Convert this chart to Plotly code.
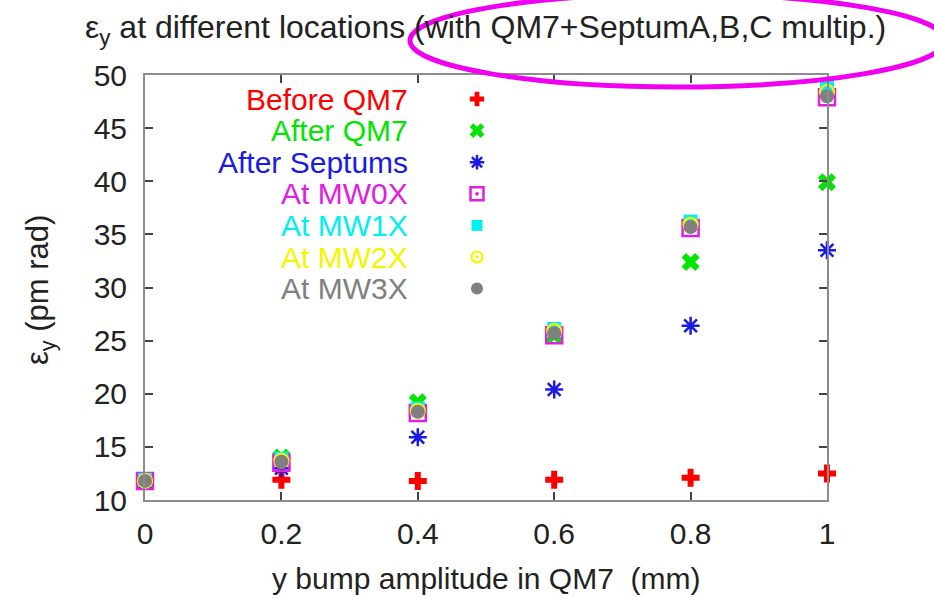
import plotly.graph_objects as go

# ---- data ----
bump_mm = [0.0, 0.2, 0.4, 0.6, 0.8, 1.0]
before_qm7 = [11.8, 11.9, 11.8, 11.9, 12.1, 12.5]
after_qm7 = [11.8, 14.0, 19.2, 25.5, 32.4, 39.9]
after_septums = [11.8, 13.0, 15.9, 20.4, 26.4, 33.5]
at_mw0x = [11.8, 13.5, 18.2, 25.5, 35.6, 47.9]
at_mw1x = [11.9, 13.9, 18.6, 26.1, 36.2, 49.0]
at_mw2x = [11.8, 13.7, 18.4, 25.9, 35.9, 48.4]
at_mw3x = [11.8, 13.6, 18.3, 25.7, 35.7, 48.0]

series_names = ["Before QM7", "After QM7", "After Septums", "At MW0X",
                "At MW1X", "At MW2X", "At MW3X"]
series_values = [before_qm7, after_qm7, after_septums, at_mw0x,
                 at_mw1x, at_mw2x, at_mw3x]
series_colors = ["#ff0000", "#00e600", "#1a1ae6", "#e020e0",
                 "#00f0f0", "#f5f500", "#808080"]
series_symbols = ["cross", "x", "asterisk-open", "square-open-dot",
                  "square", "circle-open-dot", "circle"]
series_sizes = [15, 16, 15, 16, 14, 14, 14]
legend_sizes = [12, 13, 12, 13, 11, 11, 12]
series_lw = [0, 0, 2.5, 2.5, 0, 2.2, 0]

x_ticks = [0, 0.2, 0.4, 0.6, 0.8, 1]
x_ticklabels = ["0", "0.2", "0.4", "0.6", "0.8", "1"]
y_ticks = [10, 15, 20, 25, 30, 35, 40, 45, 50]

FONT = "Liberation Sans, Arial, Helvetica, sans-serif"
W, H = 934, 598
L, R, T, B = 145, 107, 75, 98
PW, PH = W - L - R, H - T - B


def px2paper(px, py):
    return (px - L) / PW, (H - B - py) / PH


def make_marker(col, sym, sz, lw):
    if "open" in sym:
        return dict(symbol=sym, size=sz, color=col, line=dict(color=col, width=lw))
    return dict(symbol=sym, size=sz, color=col, line=dict(width=0))


fig = go.Figure()
for name, vals, col, sym, sz, lw in zip(series_names, series_values, series_colors,
                                        series_symbols, series_sizes, series_lw):
    fig.add_trace(go.Scatter(x=bump_mm, y=vals, mode="markers", name=name,
                             marker=make_marker(col, sym, sz, lw), cliponaxis=False,
                             showlegend=False))

# key: right-aligned coloured labels with the symbol to their right
lx, _ = px2paper(410, 0)
sx, _ = px2paper(477, 0)
row0, gap = 99, 31.6
for i, (name, col, sym, lsz, lw) in enumerate(zip(series_names, series_colors,
                                                  series_symbols, legend_sizes, series_lw)):
    _, ly = px2paper(0, row0 + i * gap)
    fig.add_annotation(x=lx, y=ly, xref="paper", yref="paper", text=name,
                       showarrow=False, xanchor="right", yanchor="middle",
                       font=dict(family=FONT, size=30, color=col))
    fig.add_trace(go.Scatter(x=[sx], y=[ly], xaxis="x2", yaxis="y2", mode="markers",
                             name=name, marker=make_marker(col, sym, lsz, lw),
                             showlegend=False, hoverinfo="skip"))

# axis titles
yx, yy = px2paper(40, 290)
fig.add_annotation(x=yx, y=yy, xref="paper", yref="paper",
                   text="ε<sub>y</sub> (pm rad)", textangle=-90, showarrow=False,
                   xanchor="center", yanchor="middle",
                   font=dict(family=FONT, size=31, color="#222"))
ax, ay = px2paper(486, 578)
fig.add_annotation(x=ax, y=ay, xref="paper", yref="paper",
                   text="y bump amplitude in QM7  (mm)", showarrow=False,
                   xanchor="center", yanchor="middle",
                   font=dict(family=FONT, size=30, color="#222"))

# magenta highlight ellipse around the title part
ex0, ey0 = px2paper(410, 87)
ex1, ey1 = px2paper(945, -6)
fig.add_shape(type="circle", xref="paper", yref="paper", x0=ex0, x1=ex1,
              y0=ey0, y1=ey1, line=dict(color="#f000f0", width=5), layer="above")

fig.update_layout(
    width=W, height=H,
    margin=dict(l=L, r=R, t=T, b=B, autoexpand=False),
    paper_bgcolor="white", plot_bgcolor="white",
    font=dict(family=FONT, size=24, color="#222"),
    title=dict(text="ε<sub>y</sub> at different locations (with QM7+SeptumA,B,C multip.)",
               x=85 / W, xanchor="left", y=1 - 27 / H, yanchor="middle",
               font=dict(family=FONT, size=32, color="#222")),
    showlegend=False,
    xaxis=dict(range=[0, 1], tickvals=x_ticks, ticktext=x_ticklabels,
               showgrid=False, zeroline=False, showline=True, linecolor="#8c8c8c",
               linewidth=2, mirror="ticks", ticks="inside", ticklen=8,
               tickwidth=1.5, tickcolor="#444", ticklabelstandoff=6,
               tickfont=dict(family=FONT, size=30, color="#222")),
    yaxis=dict(range=[10, 50], tickvals=y_ticks,
               showgrid=False, zeroline=False, showline=True, linecolor="#8c8c8c",
               linewidth=2, mirror="ticks", ticks="inside", ticklen=8,
               tickwidth=1.5, tickcolor="#444", ticklabelstandoff=10,
               tickfont=dict(family=FONT, size=30, color="#222")),
    xaxis2=dict(range=[0, 1], overlaying="x", visible=False),
    yaxis2=dict(range=[0, 1], overlaying="y", visible=False),
)

fig.write_html("out.html")
